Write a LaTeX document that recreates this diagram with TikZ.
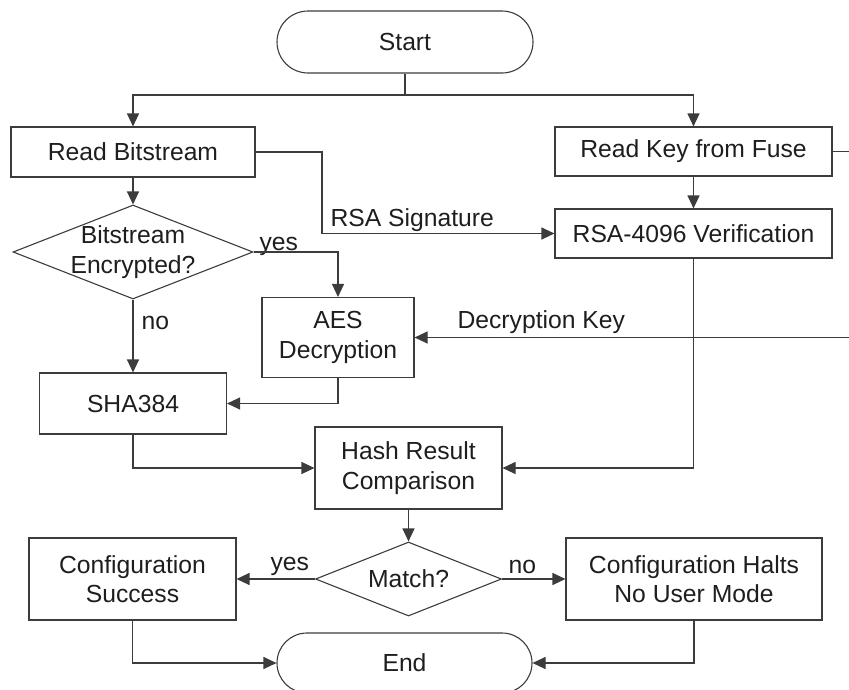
\documentclass[tikz,border=0pt]{standalone}
\usepackage{fontspec}
\setmainfont{Liberation Sans}
\usetikzlibrary{shapes.geometric,shapes.misc,arrows.meta}
\definecolor{LineColor}{RGB}{60,60,60}
\definecolor{TextColor}{RGB}{30,30,30}

\begin{document}
\begin{tikzpicture}[x=1pt, y=-1pt,
    font=\fontsize{24.7}{29.6}\selectfont,
    color=LineColor, text=TextColor, line width=1.1pt,
    >={Triangle[length=13pt, width=12pt]},
    box/.style={draw, rectangle, inner sep=0pt, align=center},
    decision/.style={draw, diamond, inner sep=0pt},
    terminal/.style={draw, rounded rectangle, inner sep=0pt},
    note/.style={inner sep=0pt, anchor=base west}]

    \useasboundingbox (0,0) rectangle (849,689);

    \node[terminal, minimum width=256, minimum height=62] (Start) at (405,42) {Start};
    \node[box, minimum width=244, minimum height=50] (ReadBitstream) at (133,152) {Read Bitstream};
    \node[box, minimum width=277, minimum height=49] (ReadKey) at (693.5,151.5) {Read Key from Fuse};
    \node[box, minimum width=277, minimum height=49] (RsaVerify) at (693.5,233.5) {RSA-4096 Verification};
    \node[decision, minimum width=240, minimum height=94,
        label={[align=center]center:Bitstream\\Encrypted?}] (Encrypted) at (133,252) {};
    \node[box, minimum width=152, minimum height=80] (AesDecrypt) at (338,337.5) {AES\\Decryption};
    \node[box, minimum width=187, minimum height=61] (Sha) at (133,403.5) {SHA384};
    \node[box, minimum width=187, minimum height=82] (HashCompare) at (408.5,468) {Hash Result\\Comparison};
    \node[decision, minimum width=186, minimum height=74, label=center:Match?] (Match) at (408.5,579) {};
    \node[box, minimum width=207, minimum height=82] (Success) at (132.5,579) {Configuration\\Success};
    \node[box, minimum width=256, minimum height=82] (Halts) at (694,579) {Configuration Halts\\No User Mode};
    \node[terminal, minimum width=255, minimum height=60] (End) at (404.5,663) {End};

    % labels on the connectors
    \node[note] (EncYes) at (259,250) {yes};
    \node[note] (EncNo) at (141,329) {no};
    \node[note] (SigText) at (330,226) {RSA Signature};
    \node[note] (KeyText) at (457,328) {Decryption Key};
    \node[note] (MatchYes) at (270,570) {yes};
    \node[note] (MatchNo) at (508,573) {no};

    \coordinate (Split) at (405,95);
    \coordinate (SigBend) at (322,233.5);
    \coordinate (FuseOut) at (849,151.5);
    \coordinate (KeyIn) at (849,337.5);

    \draw (Start) -- (Split);
    \draw[->] (Split) -| (ReadBitstream);
    \draw[->] (Split) -| (ReadKey);

    \foreach \from/\to in {
        ReadKey/RsaVerify, ReadBitstream/Encrypted, Encrypted/Sha,
        HashCompare/Match, Match/Success, Match/Halts}
    \draw[->] (\from)--(\to);

    \draw[->] (ReadBitstream.east) -| (SigBend) -- (RsaVerify.west);
    \draw[->] (Encrypted.east) -| (AesDecrypt);
    \draw (ReadKey.east) -- (FuseOut);
    \draw[->] (KeyIn) -- (AesDecrypt.east);

    \foreach \from/\to in {
        AesDecrypt.south/Sha.east, Sha.south/HashCompare.west,
        RsaVerify.south/HashCompare.east,
        Success.south/End.west, Halts.south/End.east}
    \draw[->] (\from) |- (\to);

\end{tikzpicture}
\end{document}
